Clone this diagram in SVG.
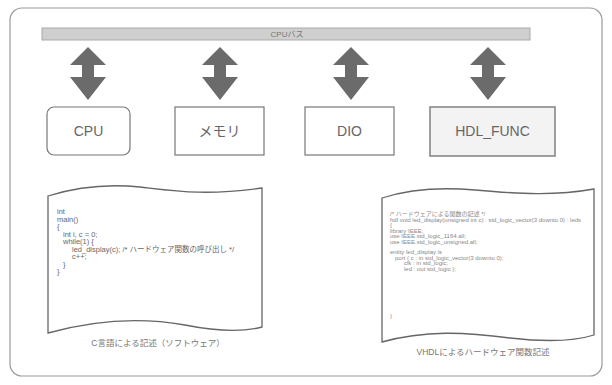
<svg xmlns="http://www.w3.org/2000/svg" width="612" height="385" viewBox="0 0 612 385">
<style>
.box{fill:#fff;stroke:#777;stroke-width:1.2}
.lbl{font-family:"Liberation Sans","Noto Sans CJK JP",sans-serif;font-size:14px;fill:#666;text-anchor:middle}
.doc{fill:#fff;stroke:#666;stroke-width:1.3}
.code{font-family:"Liberation Sans","Noto Sans CJK JP",sans-serif;font-size:7.5px;fill:#666}
.vcode{font-family:"Liberation Sans","Noto Sans CJK JP",sans-serif;font-size:6px;fill:#888}
.cap{font-family:"Liberation Sans","Noto Sans CJK JP",sans-serif;font-size:8.5px;fill:#777;text-anchor:middle}
.arr{fill:#6b6b6b}
</style>
<rect width="612" height="385" fill="#fff"/>
<rect x="10" y="8" width="592" height="368" rx="12" fill="none" stroke="#999" stroke-width="1.2"/>
<g id="bus">
<rect x="42" y="28" width="488" height="12" fill="#cfcfcf" stroke="#aaa" stroke-width="1"/>
<text x="287" y="37" font-family="Liberation Sans,Noto Sans CJK JP,sans-serif" font-size="8" fill="#777" text-anchor="middle">CPUバス</text>
</g>
<g id="connectors">
<path class="arr" d="M88,47 L106,65 L94,65 L94,77 L106,77 L88,100 L70,77 L82,77 L82,65 L70,65 Z"/>
<path class="arr" d="M220,47 L238,65 L226,65 L226,77 L238,77 L220,100 L202,77 L214,77 L214,65 L202,65 Z"/>
<path class="arr" d="M351,47 L369,65 L357,65 L357,77 L369,77 L351,100 L333,77 L345,77 L345,65 L333,65 Z"/>
<path class="arr" d="M488,47 L506,65 L494,65 L494,77 L506,77 L488,100 L470,77 L482,77 L482,65 L470,65 Z"/>
</g>
<g id="cpu">
<rect class="box" x="47" y="107" width="83" height="48" rx="7"/>
<text class="lbl" x="88.5" y="136">CPU</text>
</g>
<g id="memory">
<rect class="box" x="175" y="107" width="89" height="48"/>
<text class="lbl" x="219.5" y="136">メモリ</text>
</g>
<g id="dio">
<rect class="box" x="305" y="107" width="89" height="48"/>
<text class="lbl" x="349.5" y="136">DIO</text>
</g>
<g id="hdl_func">
<rect x="430" y="107" width="125" height="49" fill="#f3f3f3" stroke="#888" stroke-width="1.6"/>
<text class="lbl" x="492.5" y="136">HDL_FUNC</text>
</g>
<g id="c_source">
<path class="doc" d="M48,196 C80,186 110,184 140,187 C175,191 205,196 262,188 L262,327 C240,333 215,331 185,325 C140,317 95,320 48,333 Z"/>
<text class="code" x="57" y="214">int</text>
<text class="code" x="57" y="221.5">main()</text>
<text class="code" x="57" y="229">{</text>
<text class="code" x="63" y="236.5">int i, c = 0;</text>
<text class="code" x="63" y="244">while(1) {</text>
<text class="code" x="72" y="251.5">led_display(c); /* ハードウェア関数の呼び出し */</text>
<text class="code" x="72" y="259">c++;</text>
<text class="code" x="63" y="266.5">}</text>
<text class="code" x="57" y="274">}</text>
<text class="cap" x="158" y="346">C言語による記述（ソフトウェア）</text>
</g>
<g id="vhdl_source">
<path class="doc" d="M382,198 C410,189 440,187 475,190 C520,194 555,196 594,189 L594,335 C575,341 545,342 510,338 C465,332 425,330 382,342 Z"/>
<text class="vcode" x="390" y="216">/* ハードウェアによる関数の記述 */</text>
<text class="vcode" x="390" y="221.5">hdl void led_display(unsigned int c) : std_logic_vector(3 downto 0) : leds</text>
<text class="vcode" x="390" y="227">{</text>
<text class="vcode" x="390" y="232.5">library IEEE;</text>
<text class="vcode" x="390" y="238">use IEEE.std_logic_1164.all;</text>
<text class="vcode" x="390" y="243.5">use IEEE.std_logic_unsigned.all;</text>
<text class="vcode" x="390" y="254">entity led_display is</text>
<text class="vcode" x="395" y="259.5">port ( c : in std_logic_vector(3 downto 0);</text>
<text class="vcode" x="404" y="265">clk : in std_logic;</text>
<text class="vcode" x="404" y="270.5">led : out std_logic );</text>
<text class="vcode" x="390" y="318">}</text>
<text class="cap" x="483" y="355">VHDLによるハードウェア関数記述</text>
</g>
</svg>
